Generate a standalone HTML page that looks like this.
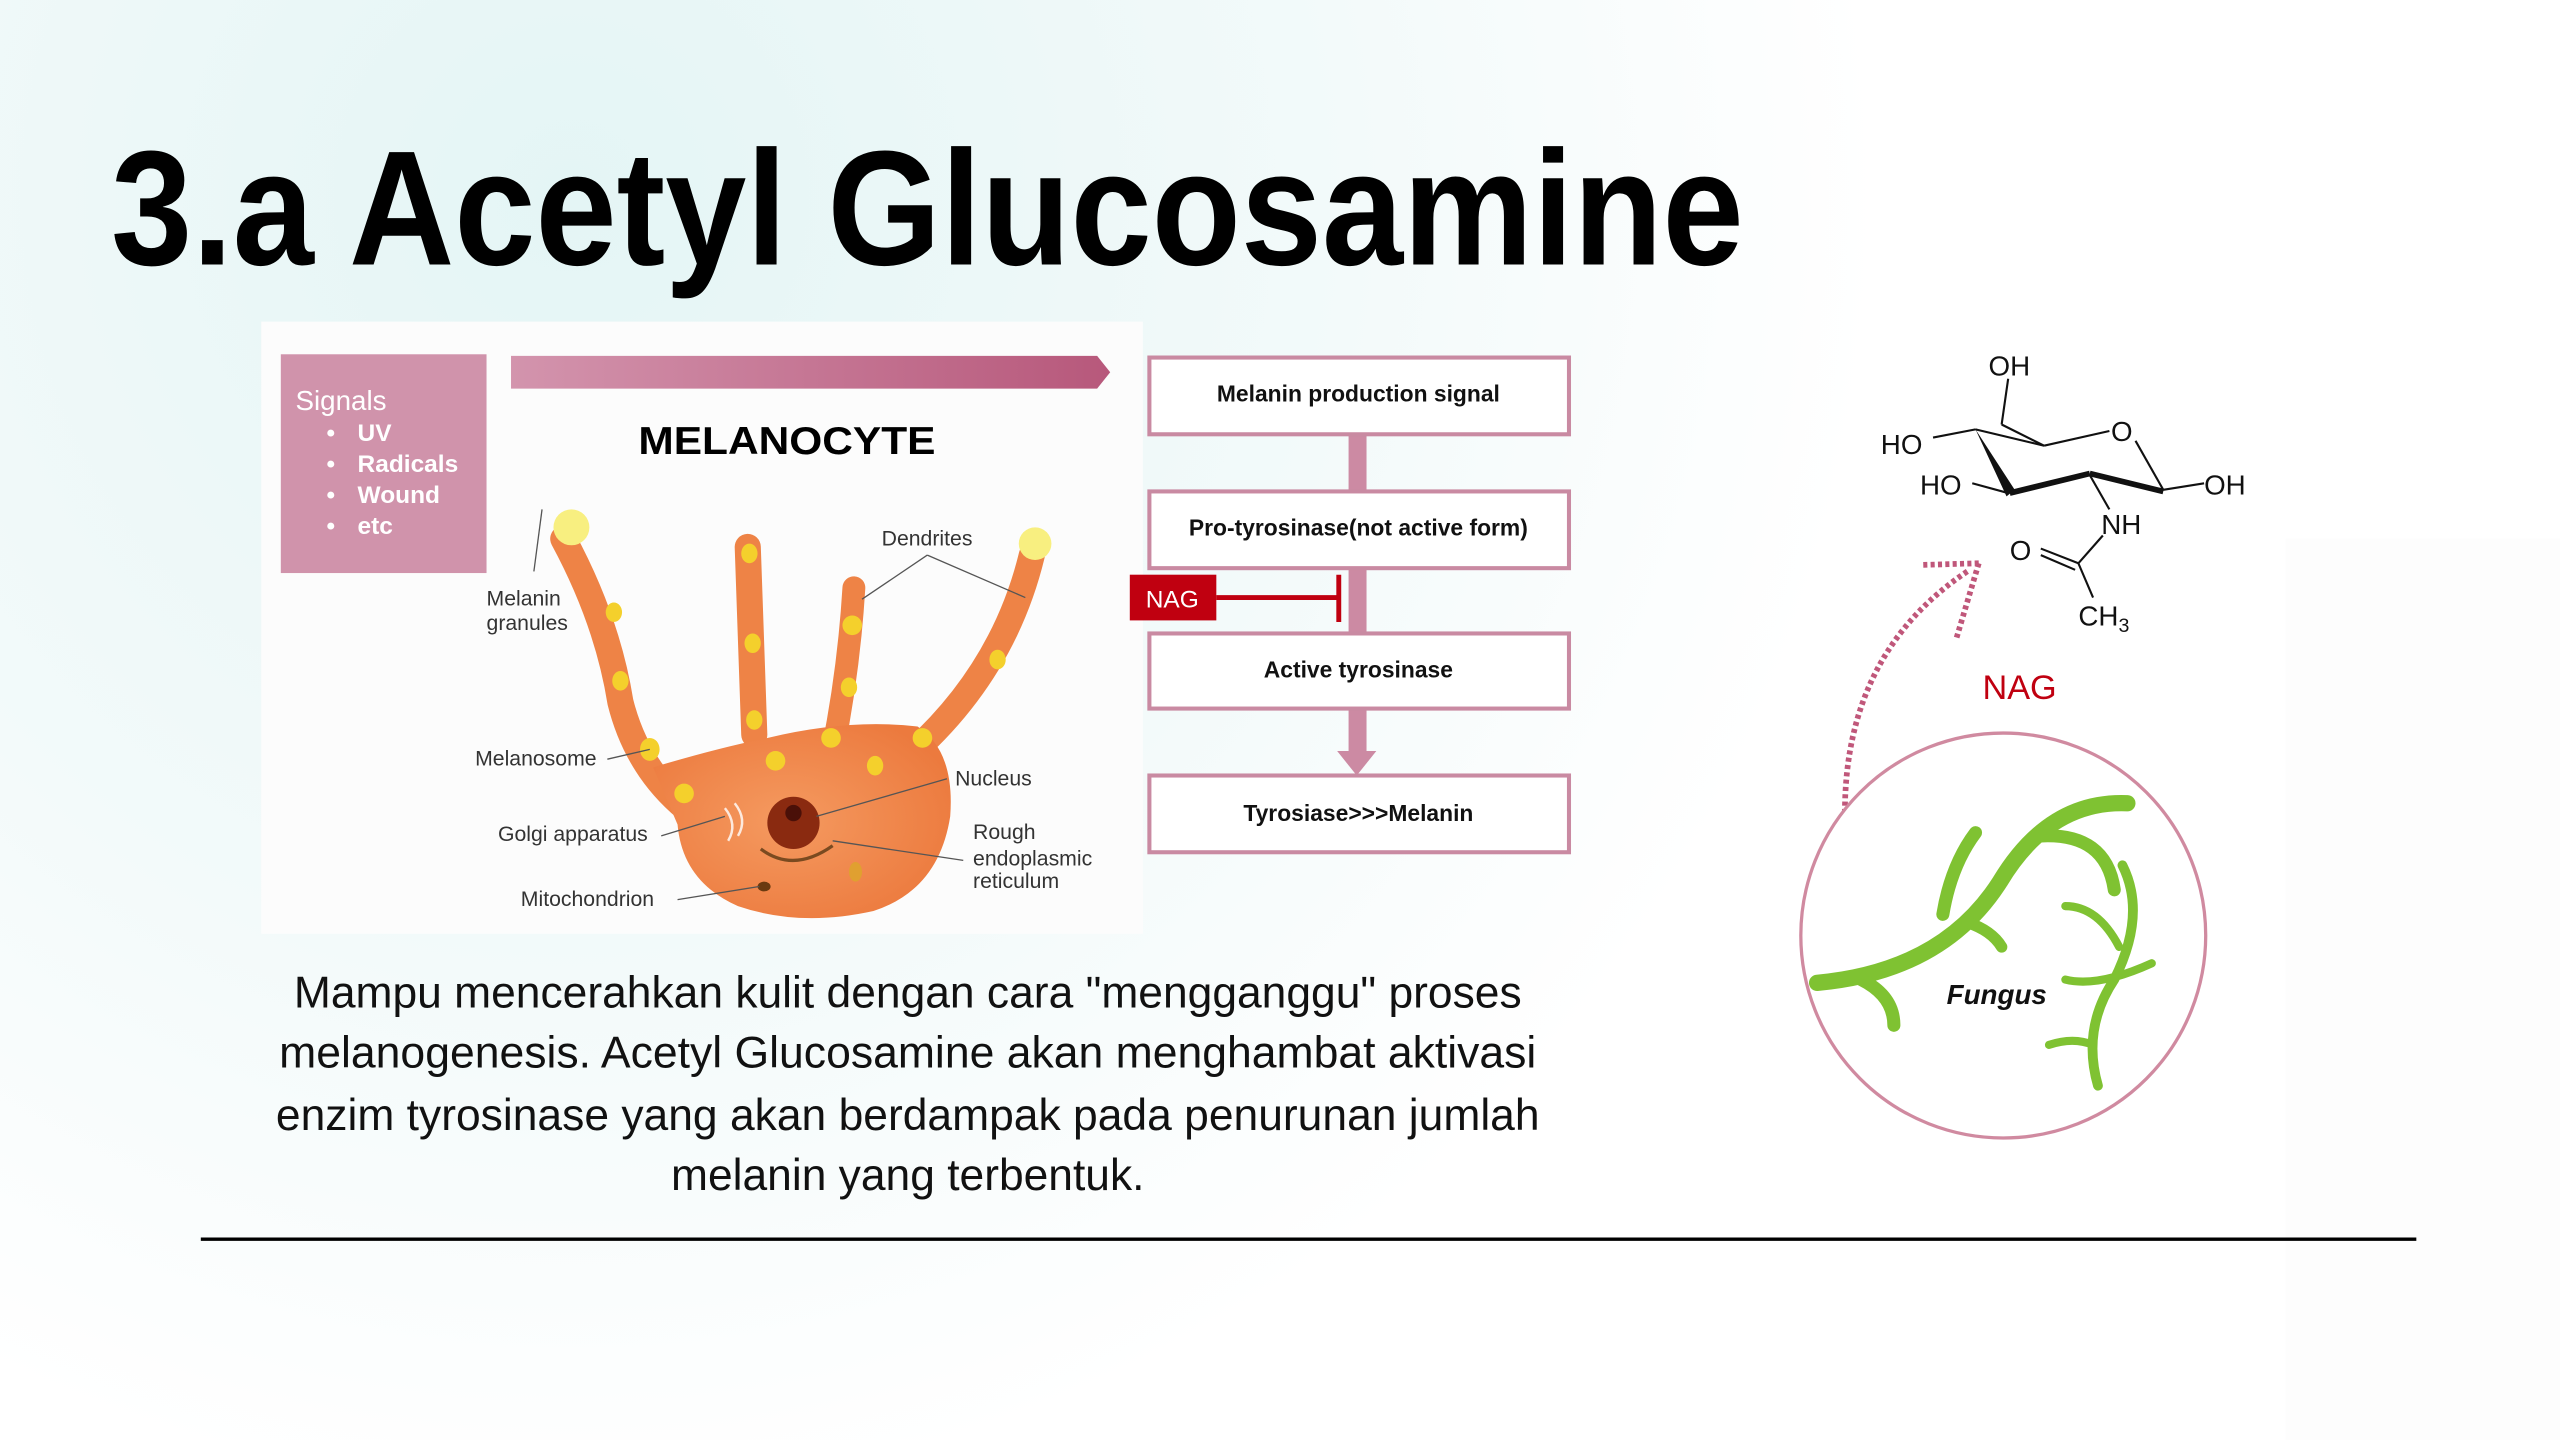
<!DOCTYPE html>
<html><head><meta charset="utf-8"><style>html,body{margin:0;padding:0;background:#fff}svg{display:block}</style></head>
<body>
<svg width="2560" height="1440" viewBox="0 0 1568 882" xmlns="http://www.w3.org/2000/svg" font-family="Liberation Sans, sans-serif">
<defs>
<radialGradient id="bg" cx="350" cy="120" r="800" gradientUnits="userSpaceOnUse">
<stop offset="0" stop-color="#e4f5f5"/><stop offset="0.6" stop-color="#f3fafa"/><stop offset="1" stop-color="#ffffff"/></radialGradient>
<linearGradient id="bar" x1="0" x2="1"><stop offset="0" stop-color="#d394ad"/><stop offset="1" stop-color="#b7587b"/></linearGradient>
<radialGradient id="cell" cx="0.45" cy="0.5" r="0.6"><stop offset="0" stop-color="#f59a60"/><stop offset="1" stop-color="#ec7a3e"/></radialGradient>
</defs>
<rect width="1568" height="882" fill="url(#bg)"/>
<rect x="1400" y="330" width="168" height="552" fill="#f9f9f9" opacity="0.35"/>
<text x="68" y="162" font-size="100" font-weight="bold" fill="#000" textLength="1000" lengthAdjust="spacingAndGlyphs">3.a Acetyl Glucosamine</text>

<rect x="160" y="197" width="540" height="375" fill="#fcfcfc"/>
<rect x="172" y="217" width="126" height="134" fill="#d093ab"/>
<g fill="#fff" font-weight="bold" font-size="15">
<text x="181" y="251" font-size="17" font-weight="normal">Signals</text>
<text x="200" y="270">•</text><text x="219" y="270">UV</text>
<text x="200" y="289">•</text><text x="219" y="289">Radicals</text>
<text x="200" y="308">•</text><text x="219" y="308">Wound</text>
<text x="200" y="327">•</text><text x="219" y="327">etc</text>
</g>
<polygon points="313,218 672,218 680,228 672,238 313,238" fill="url(#bar)"/>
<text x="482" y="278" font-size="24" font-weight="bold" text-anchor="middle" textLength="182" lengthAdjust="spacingAndGlyphs">MELANOCYTE</text>

<!-- cell -->
<g fill="none" stroke="#ee8346" stroke-linecap="round">
<path d="M345,330 Q372,380 380,430 Q390,470 420,495" stroke-width="16"/>
<path d="M458,335 L462,450" stroke-width="16"/>
<path d="M523,360 Q520,410 510,460" stroke-width="14"/>
<path d="M632,340 Q615,410 560,460" stroke-width="16"/>
</g>
<path d="M400,470 Q440,458 470,452 Q520,440 562,445 Q585,460 582,500 Q575,545 535,558 Q490,568 452,555 Q418,540 415,505 Z" fill="url(#cell)"/>
<g fill="#f4d02c">
<circle cx="350" cy="323" r="11" fill="#f8ef80"/><circle cx="634" cy="333" r="10" fill="#f8ef80"/>
<ellipse cx="376" cy="375" rx="5" ry="6"/><ellipse cx="380" cy="417" rx="5" ry="6"/><ellipse cx="398" cy="459" rx="6" ry="7"/>
<ellipse cx="419" cy="486" rx="6" ry="6"/><ellipse cx="459" cy="339" rx="5" ry="6"/><ellipse cx="461" cy="394" rx="5" ry="6"/>
<ellipse cx="462" cy="441" rx="5" ry="6"/><ellipse cx="522" cy="383" rx="6" ry="6"/><ellipse cx="520" cy="421" rx="5" ry="6"/>
<ellipse cx="611" cy="404" rx="5" ry="6"/><ellipse cx="509" cy="452" rx="6" ry="6"/><ellipse cx="565" cy="452" rx="6" ry="6"/>
<ellipse cx="475" cy="466" rx="6" ry="6"/><ellipse cx="536" cy="469" rx="5" ry="6"/>
</g>
<circle cx="486" cy="504" r="16" fill="#8a2a10"/><circle cx="486" cy="498" r="5" fill="#4a1008"/>
<path d="M466,520 Q486,535 510,518" stroke="#7a4a20" stroke-width="2" fill="none"/>
<path d="M444,495 Q452,505 446,515 M450,492 Q458,502 452,512" stroke="#fff" stroke-width="1.5" fill="none" opacity="0.8"/>
<ellipse cx="524" cy="534" rx="4" ry="6" fill="#e0a030"/><ellipse cx="468" cy="543" rx="4" ry="3" fill="#6a3a10"/>
<g stroke="#555" stroke-width="0.8" fill="none">
<line x1="332" y1="312" x2="327" y2="350"/><line x1="568" y1="340" x2="528" y2="367"/><line x1="568" y1="340" x2="628" y2="366"/>
<line x1="372" y1="465" x2="398" y2="459"/><line x1="580" y1="477" x2="500" y2="500"/><line x1="405" y1="512" x2="444" y2="500"/>
<line x1="590" y1="527" x2="510" y2="515"/><line x1="415" y1="551" x2="465" y2="543"/>
</g>
<g font-size="13" fill="#333">
<text x="298" y="371">Melanin</text><text x="298" y="386">granules</text>
<text x="540" y="334">Dendrites</text><text x="291" y="469">Melanosome</text>
<text x="585" y="481">Nucleus</text><text x="305" y="515">Golgi apparatus</text>
<text x="596" y="514">Rough</text><text x="596" y="530">endoplasmic</text><text x="596" y="544">reticulum</text>
<text x="319" y="555">Mitochondrion</text>
</g>

<!-- flow -->
<g fill="#cc8aa3">
<rect x="826" y="266" width="11" height="35"/><rect x="826" y="348" width="11" height="40"/>
<rect x="826" y="434" width="11" height="28"/><polygon points="819,460 843,460 831,475"/>
</g>
<g fill="#fff" stroke="#c98aa2" stroke-width="2.5">
<rect x="704" y="219" width="257" height="47"/><rect x="704" y="301" width="257" height="47"/>
<rect x="704" y="388" width="257" height="46"/><rect x="704" y="475" width="257" height="47"/>
</g>
<g font-size="14" font-weight="bold" text-anchor="middle" fill="#111">
<text x="832" y="246">Melanin production signal</text>
<text x="832" y="328">Pro-tyrosinase(not active form)</text>
<text x="832" y="415">Active tyrosinase</text>
<text x="832" y="503">Tyrosiase&gt;&gt;&gt;Melanin</text>
</g>
<rect x="692" y="352" width="53" height="28" fill="#c00010"/>
<text x="718" y="372" font-size="15" fill="#fff" text-anchor="middle">NAG</text>
<line x1="745" y1="366" x2="820" y2="366" stroke="#c00010" stroke-width="3"/>
<line x1="820" y1="352" x2="820" y2="381" stroke="#c00010" stroke-width="3"/>

<g font-size="27" text-anchor="middle" fill="#111">
<text x="556" y="617" textLength="752" lengthAdjust="spacingAndGlyphs">Mampu mencerahkan kulit dengan cara "mengganggu" proses</text>
<text x="556" y="654" textLength="770" lengthAdjust="spacingAndGlyphs">melanogenesis. Acetyl Glucosamine akan menghambat aktivasi</text>
<text x="556" y="692" textLength="774" lengthAdjust="spacingAndGlyphs">enzim tyrosinase yang akan berdampak pada penurunan jumlah</text>
<text x="556" y="729" textLength="290" lengthAdjust="spacingAndGlyphs">melanin yang terbentuk.</text>
</g>
<line x1="123" y1="759" x2="1480" y2="759" stroke="#000" stroke-width="2"/>

<!-- molecule -->
<g stroke="#111" stroke-width="1.3" fill="none">
<line x1="1230" y1="232" x2="1226" y2="260"/><line x1="1226" y1="260" x2="1252" y2="273"/>
<line x1="1184" y1="268" x2="1210" y2="263"/><line x1="1210" y1="263" x2="1252" y2="273"/>
<line x1="1252" y1="273" x2="1292" y2="264"/><line x1="1308" y1="270" x2="1325" y2="300"/>
<line x1="1208" y1="296" x2="1230" y2="302"/><line x1="1325" y1="300" x2="1350" y2="296"/>
<line x1="1280" y1="291" x2="1292" y2="312"/><line x1="1288" y1="328" x2="1273" y2="345"/>
<line x1="1273" y1="345" x2="1250" y2="336"/><line x1="1271" y1="349" x2="1250" y2="340"/>
<line x1="1273" y1="345" x2="1282" y2="366"/>
</g>
<polygon points="1210,263 1234,300 1229,304" fill="#111"/>
<g stroke="#111" stroke-width="3.5"><line x1="1231" y1="302" x2="1280" y2="290"/><line x1="1280" y1="290" x2="1325" y2="301"/></g>
<g font-size="17" fill="#111">
<text x="1218" y="230">OH</text><text x="1152" y="278">HO</text><text x="1293" y="270">O</text>
<text x="1176" y="303">HO</text><text x="1350" y="303">OH</text><text x="1287" y="327">NH</text>
<text x="1231" y="343">O</text><text x="1273" y="383">CH<tspan font-size="12" dy="4">3</tspan></text>
</g>
<text x="1237" y="428" font-size="21" fill="#c00010" text-anchor="middle">NAG</text>
<g stroke="#c0577a" stroke-width="3.5" stroke-dasharray="2.5 2" fill="none">
<path d="M1130,498 Q1130,400 1205,350"/>
<line x1="1178" y1="346" x2="1212" y2="345"/><line x1="1212" y1="345" x2="1198" y2="392"/>
</g>
<circle cx="1227" cy="573" r="124" fill="#fff" stroke="#d08aa0" stroke-width="2"/>
<g fill="none" stroke="#7fc232" stroke-linecap="round">
<path d="M1113,602 Q1190,595 1225,540 Q1255,490 1303,492" stroke-width="10"/>
<path d="M1250,512 Q1290,510 1295,545" stroke-width="8"/>
<path d="M1190,560 Q1195,530 1210,510" stroke-width="8"/>
<path d="M1205,565 Q1220,570 1226,580" stroke-width="7"/>
<path d="M1140,600 Q1160,610 1160,628" stroke-width="8"/>
<path d="M1300,530 Q1315,560 1295,600 Q1275,630 1285,665" stroke-width="6"/>
<path d="M1265,555 Q1285,555 1298,580" stroke-width="5"/>
<path d="M1265,600 Q1285,605 1318,590" stroke-width="5"/>
<path d="M1255,640 Q1270,635 1282,640" stroke-width="5"/>
</g>
<text x="1223" y="615" font-size="17" font-weight="bold" font-style="italic" text-anchor="middle" fill="#111">Fungus</text>
</svg>
</body></html>
